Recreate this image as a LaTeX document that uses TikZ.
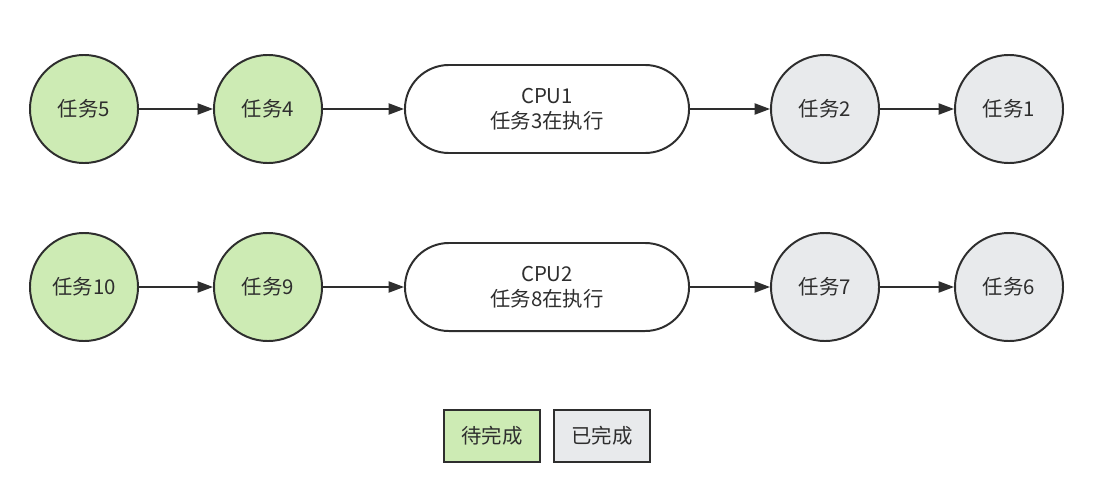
\documentclass[tikz,border=0pt]{standalone}
\usepackage{fontspec}
\setmainfont{Noto Sans CJK SC}
\usetikzlibrary{arrows.meta}
\definecolor{todo}{HTML}{CDEBB4}
\definecolor{done}{HTML}{E8EAEC}
\definecolor{edge}{HTML}{2E2E2E}
\tikzstyle{pending} = [
    circle,
    minimum size=2.7cm,
    line width=1.4pt,
    fill=todo,
    draw=edge,
    text=edge
]
\tikzstyle{finished} = [
    circle,
    minimum size=2.7cm,
    line width=1.4pt,
    fill=done,
    draw=edge,
    text=edge
]
\tikzstyle{cpu} = [
    rectangle,
    rounded corners=1.1cm,
    minimum width=7.1cm,
    minimum height=2.2cm,
    line width=1.4pt,
    fill=white,
    draw=edge,
    text=edge,
    align=center
]
\tikzstyle{legend} = [
    rectangle,
    minimum width=2.4cm,
    minimum height=1.3cm,
    line width=1.4pt,
    draw=edge,
    text=edge
]
\tikzstyle{arrow} = [line width=1.1pt, draw=edge, -{Triangle[length=11pt,width=8pt]}]

\begin{document}
\begin{tikzpicture}[x=0.025cm, y=-0.025cm, font=\fontsize{14.5}{18}\selectfont]
\useasboundingbox (0,0) rectangle (1102,500);

% first row
\node (t5) [pending] at (84,109) {任务5};
\node (t4) [pending] at (268,109) {任务4};
\node (cpu1) [cpu] at (547,109) {CPU1\\任务3在执行};
\node (t2) [finished] at (825,109) {任务2};
\node (t1) [finished] at (1009,109) {任务1};

% second row
\node (t10) [pending] at (84,287) {任务10};
\node (t9) [pending] at (268,287) {任务9};
\node (cpu2) [cpu] at (547,287) {CPU2\\任务8在执行};
\node (t7) [finished] at (825,287) {任务7};
\node (t6) [finished] at (1009,287) {任务6};

% legend
\node (wait) [legend, fill=todo] at (492,436) {待完成};
\node (over) [legend, fill=done] at (602,436) {已完成};

\draw [arrow] (t5) -- (t4);
\draw [arrow] (t4) -- (cpu1);
\draw [arrow] (cpu1) -- (t2);
\draw [arrow] (t2) -- (t1);

\draw [arrow] (t10) -- (t9);
\draw [arrow] (t9) -- (cpu2);
\draw [arrow] (cpu2) -- (t7);
\draw [arrow] (t7) -- (t6);

\end{tikzpicture}
\end{document}
